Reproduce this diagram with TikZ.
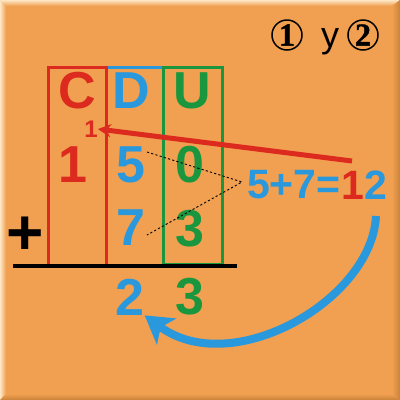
\documentclass[tikz,border=0pt]{standalone}
\usepackage{fontspec}
\setmainfont{Liberation Sans}
\newfontfamily\serifb[FakeBold=1.2]{Liberation Serif}
\usetikzlibrary{arrows.meta}
\definecolor{bg}{HTML}{F0A050}
\definecolor{bglight}{HTML}{FCE6C4}
\definecolor{bgdark}{HTML}{C98238}
\definecolor{cred}{HTML}{DC2A1E}
\definecolor{cblue}{HTML}{2A98DC}
\definecolor{cgreen}{HTML}{1A963E}
\newcommand\cdig[1]{{\fontsize{32}{32}\serifb\bfseries #1}}
\tikzset{
  big/.style={inner sep=0pt, font=\fontsize{52}{52}\selectfont\bfseries},
  mid/.style={inner sep=0pt, font=\fontsize{41}{41}\selectfont\bfseries},
  carrytxt/.style={inner sep=0pt, font=\fontsize{24}{24}\selectfont\bfseries},
  colbox/.style={line width=3pt},
  dots/.style={black, line width=0.9pt, dash pattern=on 2.2pt off 2.2pt},
  ring/.style={black, line width=1.5pt},
  circdigit/.style={inner sep=0pt}
}
\begin{document}
\begin{tikzpicture}[x=1pt,y=-1pt]
\useasboundingbox (0,0) rectangle (400,400);
% background with bevel
\fill[bg] (0,0) rectangle (400,400);
\shade[left color=bglight, right color=bg] (0,0)--(6,6)--(6,394)--(0,400)--cycle;
\shade[top color=bglight, bottom color=bg] (0,0)--(400,0)--(392,6)--(6,6)--cycle;
\shade[left color=bg, right color=bgdark] (392,6)--(400,0)--(400,400)--(392,394)--cycle;
\shade[top color=bg, bottom color=bgdark] (6,394)--(392,394)--(400,400)--(0,400)--cycle;

% circled numbers
\draw[ring] (287,35) circle (15);
\node[circdigit] (c1) at (287,35) {\cdig{1}};
\node[inner sep=0pt, font=\fontsize{36}{36}\selectfont, anchor=base] (ytext) at (330,47) {y};
\draw[ring] (363,35) circle (15);
\node[circdigit] (c2) at (363,35) {\cdig{2}};

% column boxes
\draw[colbox, cblue] (106,67) rectangle (163,265);
\draw[colbox, cred] (48,67) rectangle (106,265);
\draw[colbox, cgreen] (163,67) rectangle (222,264);
\draw[black, line width=4pt] (13,266) -- (237,266);

% headers
\node[big, text=cred] (hc) at (77,91) {C};
\node[big, text=cblue] (hd) at (131,91) {D};
\node[big, text=cgreen] (hu) at (192,91) {U};

% carry
\node[carrytxt, text=cred] (carry) at (91,129) {1};

% first row
\node[big, text=cred] (r1c) at (73,165) {1};
\node[big, text=cblue] (r1d) at (131,165) {5};
\node[big, text=cgreen] (r1u) at (190,165) {0};

% second row
\node[big, text=cblue] (r2d) at (131,228) {7};
\node[big, text=cgreen] (r2u) at (190,229) {3};
\node[inner sep=0pt, font=\fontsize{64}{64}\selectfont\bfseries] (plus) at (25,236) {+};

% result
\node[big, text=cblue] (resd) at (130,297) {2};
\node[big, text=cgreen] (resu) at (190,297) {3};

% equation
\node[mid, text=cblue, anchor=west] (eqa) at (247,185) {5+7=};
\node[mid, text=cred, anchor=west] (eq1) at (eqa.east) {1};
\node[mid, text=cblue, anchor=west] (eq2) at (eq1.east) {2};

% dotted guides
\coordinate (d5) at (147,152);
\coordinate (deq) at (242,182);
\coordinate (d7) at (147,235);
\draw[dots] (d5) -- (deq) -- (d7);

% red carry arrow
\coordinate (rstart) at (352,161);
\draw[cred, line width=5pt, -{Stealth[length=13pt,width=13pt]}] (rstart) -- (carry.east);

% blue arc arrow
\coordinate (bstart) at (376,216);
\draw[cblue, line width=8pt, -{Stealth[length=27pt,width=32pt,inset=7pt]}] (bstart) .. controls (372,300) and (232,380) .. (resd.south east);
\end{tikzpicture}
\end{document}
